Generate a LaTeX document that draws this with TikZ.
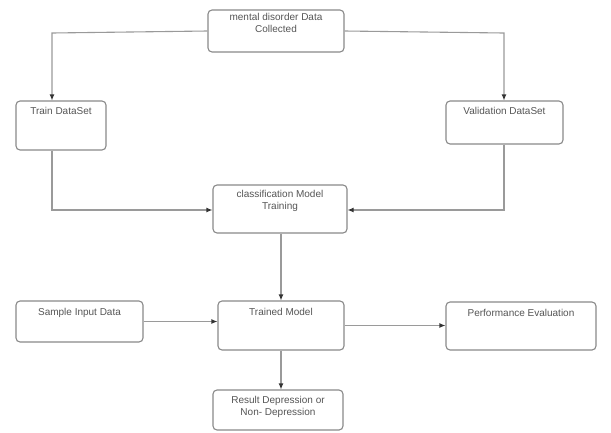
\documentclass[tikz,border=0pt]{standalone}
\usepackage{fontspec}
\setmainfont{Liberation Sans}
\usetikzlibrary{arrows.meta}
\definecolor{boxc}{HTML}{8A8A8A}
\definecolor{linec}{HTML}{9A9A9A}
\definecolor{txtc}{HTML}{555555}
\definecolor{headc}{HTML}{333333}
\begin{document}
\begin{tikzpicture}[x=1pt,y=-1pt,
  box/.style={draw=boxc, line width=1.1pt, rounded corners=4pt, inner sep=0pt},
  lbl/.style={anchor=north, text=txtc, font=\fontsize{10}{12}\selectfont, align=center, inner sep=0pt},
  conn/.style={draw=linec, line width=1.1pt},
  arr/.style={conn, -{Latex[length=6pt,width=5pt,color=headc]}}]
\useasboundingbox[fill=white] (0,0) rectangle (611,432);
% boxes
\node[box, minimum width=136pt, minimum height=42pt] (top) at (276,31) {};
\node[box, minimum width=90pt, minimum height=49pt] (train) at (61,125.5) {};
\node[box, minimum width=117pt, minimum height=43pt] (val) at (504.5,122.5) {};
\node[box, minimum width=134pt, minimum height=48pt] (cls) at (280,209) {};
\node[box, minimum width=127pt, minimum height=41pt] (sample) at (79.5,321.5) {};
\node[box, minimum width=126pt, minimum height=49pt] (trained) at (281,325.5) {};
\node[box, minimum width=150pt, minimum height=48pt] (perf) at (521,326) {};
\node[box, minimum width=130pt, minimum height=40pt] (result) at (278,410) {};
% texts
\node[lbl] (ttop) at ([yshift=-4pt]top.north) {mental disorder Data\\Collected};
\node[lbl] (ttrain) at ([yshift=-7pt]train.north) {Train DataSet};
\node[lbl] (tval) at ([yshift=-7pt]val.north) {Validation DataSet};
\node[lbl] (tcls) at ([yshift=-6pt]cls.north) {classification Model\\Training};
\node[lbl] (tsample) at ([yshift=-8pt]sample.north) {Sample Input Data};
\node[lbl] (ttrained) at ([yshift=-8pt]trained.north) {Trained Model};
\node[lbl] (tperf) at ([yshift=-8pt]perf.north) {Performance Evaluation};
\node[lbl] (tres) at ([yshift=-7pt]result.north) {Result Depression or\\Non- Depression};
% coordinates
\coordinate (tl) at (52,33);
\coordinate (tr) at (504,33);
\coordinate (bl) at (52,210);
\coordinate (br) at (504,210);
\coordinate (mid) at (281,0);
% connectors
\draw[arr] (top.west) -- (tl) -- (tl |- train.north);
\draw[arr] (top.east) -- (tr) -- (tr |- val.north);
\draw[arr] (bl |- train.south) -- (bl) -- (bl -| cls.west);
\draw[arr] (br |- val.south) -- (br) -- (br -| cls.east);
\draw[arr] (mid |- cls.south) -- (mid |- trained.north);
\draw[arr] (sample.east) -- (sample.east -| trained.west);
\draw[arr] (trained.east) -- (trained.east -| perf.west);
\draw[arr] (mid |- trained.south) -- (mid |- result.north);
\end{tikzpicture}
\end{document}
